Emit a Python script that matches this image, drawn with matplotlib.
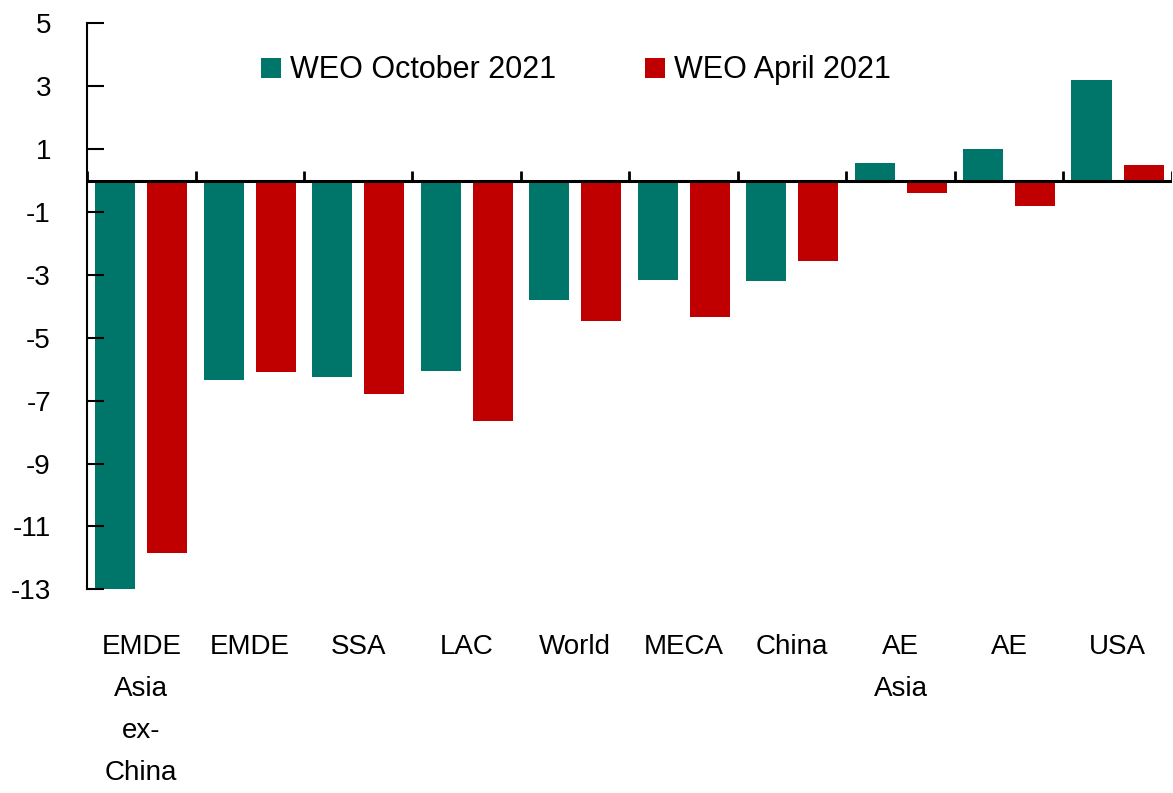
import matplotlib.pyplot as plt
import numpy as np

plt.rcParams['font.family'] = ['Liberation Sans', 'DejaVu Sans']
plt.rcParams['axes.unicode_minus'] = False

categories = ["EMDE\nAsia\nex-\nChina", "EMDE", "SSA", "LAC", "World", "MECA",
              "China", "AE\nAsia", "AE", "USA"]
weo_oct = [-13.1, -6.35, -6.25, -6.05, -3.8, -3.15, -3.2, 0.57, 1.0, 3.2]
weo_apr = [-11.85, -6.1, -6.8, -7.65, -4.45, -4.35, -2.55, -0.4, -0.8, 0.5]

green = '#00766A'
red = '#C00000'

fig = plt.figure(figsize=(11.73, 7.93), dpi=100)
ax = fig.add_axes([0.0742, 0.2569, 0.9248, 0.7135])

x = np.arange(len(categories))
w = 0.37
ax.bar(x - 0.24, weo_oct, w, color=green, label='WEO October 2021')
ax.bar(x + 0.24, weo_apr, w, color=red, label='WEO April 2021')

ax.set_xlim(-0.5, len(categories) - 0.5)
ax.set_ylim(-13, 5)
ax.set_yticks(np.arange(-13, 6, 2))

for s in ['top', 'right', 'bottom']:
    ax.spines[s].set_visible(False)
ax.spines['left'].set_linewidth(1.5)

# zero line with category separator ticks
ax.axhline(0, color='black', lw=2.2, zorder=3)
bounds = np.arange(len(categories) + 1) - 0.5
ax.vlines(bounds, 0, 0.3, color='black', lw=2, zorder=3)

ax.tick_params(axis='y', direction='in', length=12, width=1.5, pad=26, labelsize=20)
ax.set_xticks(x)
ax.set_xticklabels(categories, fontsize=20, va='top', linespacing=1.8)
ax.tick_params(axis='x', length=0, pad=32)

ax.legend(loc='upper center', bbox_to_anchor=(0.451, 0.992), ncol=2, frameon=False,
          fontsize=22, handlelength=0.65, handleheight=0.65, handletextpad=0.3,
          columnspacing=2.9)

fig.savefig('out.png', dpi=100)
